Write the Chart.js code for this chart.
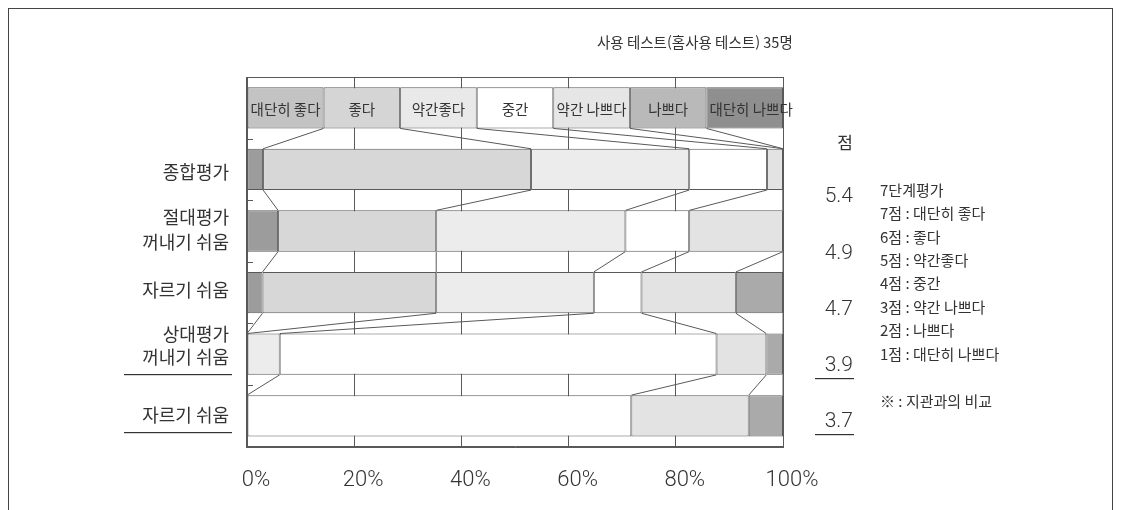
<!DOCTYPE html>
<html lang="ko">
<head>
<meta charset="utf-8">
<script src="https://cdn.jsdelivr.net/npm/chart.js@4"></script>
<style>
  html, body { margin: 0; padding: 0; background: #fff; }
  #wrap { position: relative; width: 1122px; height: 510px; overflow: hidden; }
  #frame { position: absolute; left: 8px; top: 8px; width: 1105px; height: 530px;
           border: 1.5px solid #444; box-sizing: border-box; pointer-events: none; }
  canvas { position: absolute; left: 0; top: 0; }
</style>
</head>
<body>
<div id="wrap">
  <canvas id="c" width="1122" height="510"></canvas>
  <div id="frame"></div>
</div>
<script>
// Rating categories (7-step scale, best to worst)
const categories = ['대단히 좋다', '좋다', '약간좋다', '중간', '약간 나쁘다', '나쁘다', '대단히 나쁘다'];

// Evaluated items (one bar each)
const rowLabels = [
  ['종합평가'],
  ['절대평가', '꺼내기 쉬움'],
  ['자르기 쉬움'],
  ['상대평가', '꺼내기 쉬움'],
  ['자르기 쉬움']
];

// Share of answers (%) per category, one value per item
const veryGood     = [3.0,  5.8,  2.9,  0.0,  0.0];
const good         = [50.0, 29.5, 32.4, 0.0,  0.0];
const slightlyGood = [29.5, 35.3, 29.4, 6.1,  0.0];
const neutral      = [14.5, 11.9, 8.9,  81.5, 71.7];
const slightlyBad  = [3.0,  17.5, 17.6, 9.3,  21.9];
const bad          = [0.0,  0.0,  8.8,  3.1,  6.4];
const veryBad      = [0.0,  0.0,  0.0,  0.0,  0.0];

// Mean score per item
const scores = [5.4, 4.9, 4.7, 3.9, 3.7];

// Items compared against the paper core (underlined)
const comparedRows = [false, false, false, true, true];

// Axis tick labels
const tickLabels = ['0%', '20%', '40%', '60%', '80%', '100%'];

const titleText = '사용 테스트(홈사용 테스트) 35명';
const scoreUnit = '점';
const scaleNotes = ['7단계평가', '7점 : 대단히 좋다', '6점 : 좋다', '5점 : 약간좋다',
                    '4점 : 중간', '3점 : 약간 나쁘다', '2점 : 나쁘다', '1점 : 대단히 나쁘다'];
const footNote = '※ : 지관과의 비교';

const series = [veryGood, good, slightlyGood, neutral, slightlyBad, bad, veryBad];

// ---- styling ----
const KR = "'Noto Sans CJK KR', 'Noto Sans', sans-serif";
const NUM = "Roboto, 'Noto Sans CJK KR', sans-serif";
const TEXT = '#333';
const LINE = '#595959';
const keyColors = ['#c3c3c3', '#d5d5d5', '#e9e9e9', '#ffffff', '#e6e6e6', '#b9b9b9', '#8f8f8f'];
const barColors = ['#9c9c9c', '#d7d7d7', '#ececec', '#ffffff', '#e3e3e3', '#aaaaaa', '#8f8f8f'];

// The top row is the key: one equal box per category
const keyShare = 100 / categories.length;
const nRows = rowLabels.length + 1;

const datasets = categories.map((name, k) => ({
  label: name,
  data: [keyShare, ...series[k]],
  backgroundColor: [keyColors[k], ...rowLabels.map(() => barColors[k])],
  borderColor: LINE,
  borderWidth: 1,
  borderSkipped: false,
  barPercentage: 1,
  categoryPercentage: 0.67
}));

// Item label line offsets from the bar centre
const labelOffsets = [[3], [-14, 11], [-2], [-20, 3], [-1]];

const decorations = {
  id: 'decorations',
  afterDatasetsDraw(chart) {
    const ctx = chart.ctx;
    const xs = chart.scales.x;
    const area = chart.chartArea;
    const meta0 = chart.getDatasetMeta(0);
    ctx.save();

    // connectors between category boundaries of neighbouring rows
    ctx.strokeStyle = LINE;
    ctx.lineWidth = 1;
    for (let r = 0; r < nRows - 1; r++) {
      const up = meta0.data[r], lo = meta0.data[r + 1];
      const yA = up.y + up.height / 2, yB = lo.y - lo.height / 2;
      let cu = 0, cl = 0;
      for (let k = 0; k < categories.length - 1; k++) {
        cu += datasets[k].data[r];
        cl += datasets[k].data[r + 1];
        ctx.beginPath();
        ctx.moveTo(xs.getPixelForValue(Math.min(cu, 100)), yA);
        ctx.lineTo(xs.getPixelForValue(Math.min(cl, 100)), yB);
        ctx.stroke();
      }
      // small marks on the left edge in each gap
      const ym = Math.round((yA + yB) / 2) + 0.5;
      ctx.beginPath();
      ctx.moveTo(area.left, ym);
      ctx.lineTo(area.left + 6, ym);
      ctx.stroke();
    }

    // plot frame
    ctx.strokeRect(Math.round(area.left) - 0.5, Math.round(area.top) + 0.5,
                   Math.round(area.right - area.left) + 1, Math.round(area.bottom - area.top));

    // key texts inside the top row
    ctx.fillStyle = TEXT;
    ctx.font = '14.5px ' + KR;
    ctx.textBaseline = 'middle';
    categories.forEach((name, k) => {
      const el = chart.getDatasetMeta(k).data[0];
      const x0 = Math.min(el.base, el.x), x1 = Math.max(el.base, el.x);
      const w = ctx.measureText(name).width;
      let tx = (x0 + x1) / 2 - w / 2;
      if (w > x1 - x0 - 4) tx = Math.max(tx, x0 + 3);
      ctx.textAlign = 'left';
      ctx.fillText(name, tx, el.y + 2);
    });

    // item labels on the left
    ctx.font = '18px ' + KR;
    ctx.textAlign = 'right';
    rowLabels.forEach((lines, i) => {
      const yc = meta0.data[i + 1].y;
      let last = yc;
      lines.forEach((t, j) => {
        last = yc + labelOffsets[i][j];
        ctx.fillText(t, 229, last);
      });
      if (comparedRows[i]) {
        ctx.fillRect(124, Math.round(last + 17), 108, 1.2);
      }
    });

    // mean scores on the right
    ctx.font = '17px ' + KR;
    ctx.textAlign = 'center';
    ctx.fillText(scoreUnit, area.right + 62, area.top + 66);
    ctx.font = '300 21px ' + NUM;
    ctx.textAlign = 'right';
    scores.forEach((s, i) => {
      const y = area.top + 120 + i * 56.3;
      ctx.fillText(s.toFixed(1), area.right + 70, y);
      if (comparedRows[i]) ctx.fillRect(area.right + 32, Math.round(y + 12), 39, 1.2);
    });

    // scale explanation
    ctx.font = '15px ' + KR;
    ctx.textAlign = 'left';
    scaleNotes.forEach((t, j) => ctx.fillText(t, 880, 190 + j * 23.4));
    ctx.fillText(footNote, 880, 401);

    // title
    ctx.font = '14.5px ' + KR;
    ctx.fillText(titleText, 597, 42);

    ctx.restore();
  }
};

new Chart(document.getElementById('c'), {
  type: 'bar',
  data: {
    labels: ['key', ...rowLabels.map(l => l.join(' '))],
    datasets
  },
  options: {
    indexAxis: 'y',
    responsive: false,
    animation: false,
    layout: { padding: { left: 247, right: 339, top: 77, bottom: -5 } },
    plugins: { legend: { display: false }, tooltip: { enabled: false } },
    scales: {
      x: {
        stacked: true,
        min: 0,
        max: 100,
        grid: { color: LINE, lineWidth: 1, drawTicks: false },
        border: { display: true, color: LINE },
        ticks: {
          stepSize: 20,
          padding: 21,
          labelOffset: 9,
          color: TEXT,
          font: { family: NUM, size: 22, weight: '300' },
          callback: (v) => tickLabels[Math.round(v / 20)]
        }
      },
      y: {
        stacked: true,
        display: false
      }
    }
  },
  plugins: [decorations]
});
</script>
</body>
</html>
